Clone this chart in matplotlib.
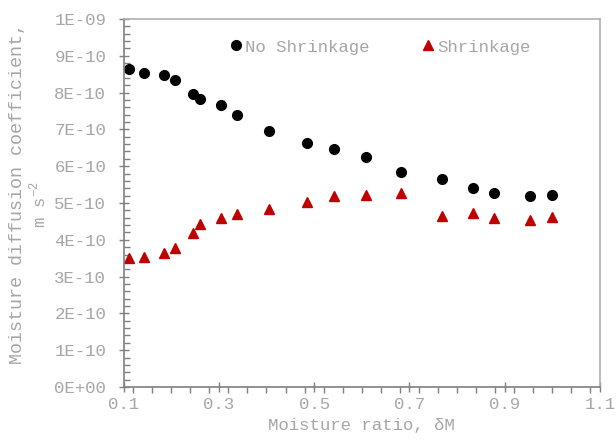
import matplotlib
matplotlib.use("Agg")
import matplotlib.pyplot as plt
from matplotlib.ticker import MultipleLocator, FixedLocator, FixedFormatter

plt.rcParams['font.family'] = ['Liberation Mono', 'DejaVu Sans Mono']
plt.rcParams['mathtext.fontset'] = 'custom'
plt.rcParams['mathtext.rm'] = 'Liberation Mono'

moisture_ratio = [0.112, 0.144, 0.185, 0.208, 0.246, 0.261, 0.304, 0.338, 0.405,
                  0.485, 0.541, 0.608, 0.682, 0.769, 0.833, 0.878, 0.953, 0.999]
no_shrinkage = [8.64, 8.52, 8.47, 8.34, 7.95, 7.83, 7.66, 7.38, 6.96,
                6.63, 6.48, 6.24, 5.83, 5.65, 5.42, 5.28, 5.19, 5.22]
shrinkage = [3.50, 3.54, 3.64, 3.77, 4.18, 4.42, 4.60, 4.71, 4.85,
             5.02, 5.19, 5.22, 5.27, 4.66, 4.72, 4.60, 4.53, 4.62]
scale = 1e-10
no_shrinkage = [v * scale for v in no_shrinkage]
shrinkage = [v * scale for v in shrinkage]

xticks = [0.1, 0.3, 0.5, 0.7, 0.9, 1.1]
xtick_labels = ["0.1", "0.3", "0.5", "0.7", "0.9", "1.1"]
yticks = [i * 1e-10 for i in range(11)]
ytick_labels = ["0E+00", "1E-10", "2E-10", "3E-10", "4E-10", "5E-10",
                "6E-10", "7E-10", "8E-10", "9E-10", "1E-09"]
ylabel_line1 = 'Moisture diffusion coefficient,'
ylabel_line2 = 'm s$^{-2}$'

fs = 12.5
text_gray = '#a6a6a6'
axis_gray = '#7f7f7f'

fig = plt.figure(figsize=(6.16, 4.40), dpi=100)
ax = fig.add_axes([123.5 / 616, 53 / 440, (600 - 123.5) / 616, (387 - 19) / 440])

ax.plot(moisture_ratio, no_shrinkage, linestyle='none', marker='o', markersize=7,
        color='black', label='No Shrinkage')
ax.plot(moisture_ratio, shrinkage, linestyle='none', marker='^', markersize=7.5,
        color='#c00000', label='Shrinkage')

ax.set_xlim(0.1, 1.1)
ax.set_ylim(0, 1e-9)
ax.xaxis.set_major_locator(FixedLocator(xticks))
ax.xaxis.set_major_formatter(FixedFormatter(xtick_labels))
ax.xaxis.set_minor_locator(MultipleLocator(0.04))
ax.yaxis.set_major_locator(FixedLocator(yticks))
ax.yaxis.set_major_formatter(FixedFormatter(ytick_labels))
ax.yaxis.set_minor_locator(MultipleLocator(2e-11))

ax.tick_params(axis='x', which='major', direction='inout', length=7, width=1,
               color=axis_gray, labelcolor=text_gray, labelsize=fs, pad=4)
ax.tick_params(axis='x', which='minor', direction='out', length=4, width=1,
               color=axis_gray)
ax.tick_params(axis='y', which='major', direction='inout', length=7, width=1,
               color=axis_gray, labelcolor=text_gray, labelsize=fs, pad=9)
ax.tick_params(axis='y', which='minor', direction='in', length=4, width=1,
               color=axis_gray)

for side in ['left', 'bottom']:
    ax.spines[side].set_color(axis_gray)
    ax.spines[side].set_linewidth(1.2)
for side in ['top', 'right']:
    ax.spines[side].set_color('#b0b0b0')
    ax.spines[side].set_linewidth(1.2)

ax.set_xlabel('Moisture ratio, δM', color=text_gray, fontsize=fs, labelpad=4)
fig.text(18 / 616, (440 - 193) / 440, ylabel_line1, rotation=90, color=text_gray,
         fontsize=13.2, ha='center', va='center')
fig.text(38 / 616, (440 - 204) / 440, ylabel_line2, rotation=90, color=text_gray,
         fontsize=fs, ha='center', va='center')

leg = ax.legend(loc='upper center', bbox_to_anchor=(0.54, 0.987), ncol=2,
                frameon=False, fontsize=fs, handlelength=0.6, handletextpad=0.2,
                columnspacing=3.08, labelcolor=text_gray, markerscale=1.0)

fig.savefig('out.png', dpi=100)
